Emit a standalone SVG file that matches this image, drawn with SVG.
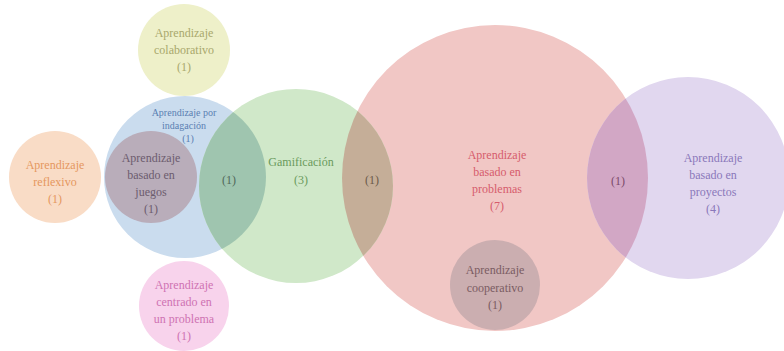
<svg xmlns="http://www.w3.org/2000/svg" width="784" height="351" viewBox="0 0 784 351" font-family="'Liberation Serif', 'DejaVu Serif', serif">
<style>
text{font-family:'Liberation Serif','DejaVu Serif',serif;font-size:12px;text-anchor:middle}
.sm{font-size:10px}
</style>
<defs>
<clipPath id="cBlue"><circle cx="185" cy="177" r="81"/></clipPath>
<clipPath id="cRed"><circle cx="495" cy="178" r="153"/></clipPath>
</defs>
<rect width="784" height="351" fill="#ffffff"/>
<g id="colaborativo"><circle cx="184" cy="50" r="46" fill="#eef0c9"/>
<text fill="#a9a86c"><tspan x="184" y="37">Aprendizaje</tspan><tspan x="184" y="54">colaborativo</tspan><tspan x="184" y="71">(1)</tspan></text></g>
<g id="reflexivo"><circle cx="55" cy="177" r="46" fill="#f9dcc6"/>
<text fill="#e5975e"><tspan x="55" y="169">Aprendizaje</tspan><tspan x="55" y="186">reflexivo</tspan><tspan x="55" y="203">(1)</tspan></text></g>
<g id="indagacion"><circle cx="185" cy="177" r="81" fill="#cadcee"/>
<text class="sm" fill="#5a7fb2"><tspan x="184" y="116">Aprendizaje por</tspan><tspan x="184" y="129">indagación</tspan><tspan x="188" y="142">(1)</tspan></text></g>
<g id="juegos"><circle cx="151" cy="177" r="46" fill="#b9adba"/>
<text fill="#6c5c6e"><tspan x="151" y="162">Aprendizaje</tspan><tspan x="151" y="179">basado en</tspan><tspan x="151" y="196">juegos</tspan><tspan x="151" y="213">(1)</tspan></text></g>
<g id="problemas"><circle cx="495" cy="178" r="153" fill="#f1c7c5"/>
<text fill="#d65c6c"><tspan x="497" y="159">Aprendizaje</tspan><tspan x="497" y="176">basado en</tspan><tspan x="497" y="193">problemas</tspan><tspan x="497" y="210">(7)</tspan></text></g>
<g id="gamificacion"><circle cx="296" cy="186" r="97" fill="#d0e8c9"/>
<circle cx="296" cy="186" r="97" fill="#9fc5af" clip-path="url(#cBlue)"/>
<circle cx="296" cy="186" r="97" fill="#c5ae98" clip-path="url(#cRed)"/>
<text fill="#6a9a5c"><tspan x="301" y="166">Gamificación</tspan><tspan x="301" y="184">(3)</tspan></text></g>
<g id="proyectos"><circle cx="688" cy="178" r="101" fill="#e1d7ef"/>
<circle cx="688" cy="178" r="101" fill="#d2a7c5" clip-path="url(#cRed)"/>
<text fill="#8a78ba"><tspan x="713" y="162">Aprendizaje</tspan><tspan x="713" y="179">basado en</tspan><tspan x="713" y="196">proyectos</tspan><tspan x="713" y="213">(4)</tspan></text></g>
<g id="cooperativo"><circle cx="495" cy="285" r="45" fill="#cbaeb0"/>
<text fill="#7a5c62"><tspan x="495" y="274">Aprendizaje</tspan><tspan x="495" y="292">cooperativo</tspan><tspan x="495" y="309">(1)</tspan></text></g>
<g id="centrado"><circle cx="184" cy="306" r="45" fill="#f8d3ec"/>
<text fill="#cf72b2"><tspan x="184" y="289">Aprendizaje</tspan><tspan x="184" y="306">centrado en</tspan><tspan x="184" y="323">un problema</tspan><tspan x="184" y="340">(1)</tspan></text></g>
<g id="overlaps">
<text fill="#50685a"><tspan x="229" y="184">(1)</tspan></text>
<text fill="#6a5a4a"><tspan x="372" y="184">(1)</tspan></text>
<text fill="#7a4a6a"><tspan x="618" y="185">(1)</tspan></text>
</g>
<g id="connectors"/>
</svg>
